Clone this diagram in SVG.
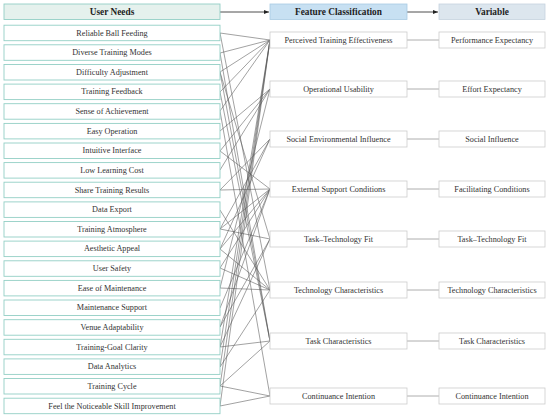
<svg xmlns="http://www.w3.org/2000/svg" width="550" height="420" viewBox="0 0 550 420">
<defs>
<marker id="arr" markerWidth="6" markerHeight="6" refX="5" refY="3" orient="auto" markerUnits="userSpaceOnUse">
<path d="M0,1 L5,3 L0,5 Z" fill="#222"/>
</marker>
<style>
text{font-family:"Liberation Serif","Times New Roman",serif;fill:#333;font-size:8.2px;text-anchor:middle;dominant-baseline:central}
.hd{font-weight:bold;font-size:9.3px;fill:#222}
.ln{fill:#fff;stroke:#93cfc5;stroke-width:0.9}
.lh{fill:#e5f1ed;stroke:#93cfc5;stroke-width:0.9}
.mb{fill:#fff;stroke:#cccccc;stroke-width:0.8}
.mh{fill:#c7e0f2;stroke:#a9cbe3;stroke-width:0.8}
.vh{fill:#dce6ee;stroke:#c5d3de;stroke-width:0.8}
.e{stroke:#555;stroke-width:0.55;fill:none}
.m{stroke:#999;stroke-width:0.8;fill:none}
.a{stroke:#222;stroke-width:0.8;fill:none;marker-end:url(#arr)}
</style>
</defs>
<rect width="550" height="420" fill="#fff"/>
<g id="connectors">
<line class="a" x1="220" y1="12" x2="269" y2="12"/>
<line class="a" x1="407" y1="12" x2="438" y2="12"/>
<g class="m">
<line x1="407" y1="40" x2="439" y2="40"/>
<line x1="407" y1="89" x2="439" y2="89"/>
<line x1="407" y1="139" x2="439" y2="139"/>
<line x1="407" y1="189" x2="439" y2="189"/>
<line x1="407" y1="239" x2="439" y2="239"/>
<line x1="407" y1="290" x2="439" y2="290"/>
<line x1="407" y1="341" x2="439" y2="341"/>
<line x1="407" y1="396" x2="439" y2="396"/>
</g>
<g class="e">
<path d="M220,33L270,40M220,53L270,40M220,72L270,40M220,92L270,40M220,111L270,40M220,347L270,40M220,367L270,40M220,386L270,40M220,406L270,40"/>
<path d="M220,131L270,89M220,151L270,89M220,170L270,89M220,288L270,89"/>
<path d="M220,190L270,139M220,229L270,139M220,249L270,139"/>
<path d="M220,151L270,189M220,190L270,189M220,229L270,189M220,249L270,189M220,268L270,189M220,308L270,189M220,327L270,189"/>
<path d="M220,72L270,239M220,229L270,239M220,327L270,239M220,347L270,239"/>
<path d="M220,33L270,290M220,210L270,290M220,249L270,290M220,268L270,290M220,288L270,290M220,367L270,290"/>
<path d="M220,53L270,341M220,72L270,341M220,92L270,341M220,347L270,341M220,386L270,341"/>
<path d="M220,111L270,396M220,386L270,396M220,406L270,396"/>
</g>
</g>
<g id="h-user"><rect class="lh" x="4" y="4" width="216" height="15.5"/><text class="hd" x="112" y="12">User Needs</text></g>
<g id="h-feature"><rect class="mh" x="270" y="4" width="137" height="15.5"/><text class="hd" x="338.5" y="12">Feature Classification</text></g>
<g id="h-variable"><rect class="vh" x="439" y="4" width="106" height="15.5"/><text class="hd" x="492" y="12">Variable</text></g>
<g id="n0"><rect class="ln" x="4" y="25.2" width="216" height="15.5"/><text x="112" y="33">Reliable Ball Feeding</text></g>
<g id="n1"><rect class="ln" x="4" y="44.8" width="216" height="15.5"/><text x="112" y="52.6">Diverse Training Modes</text></g>
<g id="n2"><rect class="ln" x="4" y="64.5" width="216" height="15.5"/><text x="112" y="72.2">Difficulty Adjustment</text></g>
<g id="n3"><rect class="ln" x="4" y="84.1" width="216" height="15.5"/><text x="112" y="91.9">Training Feedback</text></g>
<g id="n4"><rect class="ln" x="4" y="103.7" width="216" height="15.5"/><text x="112" y="111.5">Sense of Achievement</text></g>
<g id="n5"><rect class="ln" x="4" y="123.4" width="216" height="15.5"/><text x="112" y="131.1">Easy Operation</text></g>
<g id="n6"><rect class="ln" x="4" y="143" width="216" height="15.5"/><text x="112" y="150.8">Intuitive Interface</text></g>
<g id="n7"><rect class="ln" x="4" y="162.6" width="216" height="15.5"/><text x="112" y="170.4">Low Learning Cost</text></g>
<g id="n8"><rect class="ln" x="4" y="182.2" width="216" height="15.5"/><text x="112" y="190">Share Training Results</text></g>
<g id="n9"><rect class="ln" x="4" y="201.9" width="216" height="15.5"/><text x="112" y="209.7">Data Export</text></g>
<g id="n10"><rect class="ln" x="4" y="221.5" width="216" height="15.5"/><text x="112" y="229.3">Training Atmosphere</text></g>
<g id="n11"><rect class="ln" x="4" y="241.1" width="216" height="15.5"/><text x="112" y="248.9">Aesthetic Appeal</text></g>
<g id="n12"><rect class="ln" x="4" y="260.8" width="216" height="15.5"/><text x="112" y="268.6">User Safety</text></g>
<g id="n13"><rect class="ln" x="4" y="280.4" width="216" height="15.5"/><text x="112" y="288.2">Ease of Maintenance</text></g>
<g id="n14"><rect class="ln" x="4" y="300" width="216" height="15.5"/><text x="112" y="307.8">Maintenance Support</text></g>
<g id="n15"><rect class="ln" x="4" y="319.7" width="216" height="15.5"/><text x="112" y="327.5">Venue Adaptability</text></g>
<g id="n16"><rect class="ln" x="4" y="339.3" width="216" height="15.5"/><text x="112" y="347.1">Training-Goal Clarity</text></g>
<g id="n17"><rect class="ln" x="4" y="358.9" width="216" height="15.5"/><text x="112" y="366.7">Data Analytics</text></g>
<g id="n18"><rect class="ln" x="4" y="378.5" width="216" height="15.5"/><text x="112" y="386.3">Training Cycle</text></g>
<g id="n19"><rect class="ln" x="4" y="398.2" width="216" height="15.5"/><text x="112" y="406">Feel the Noticeable Skill Improvement</text></g>
<g id="f0"><rect class="mb" x="270" y="32" width="137" height="16"/><text x="338.5" y="40">Perceived Training Effectiveness</text></g>
<g id="f1"><rect class="mb" x="270" y="81" width="137" height="16"/><text x="338.5" y="89">Operational Usability</text></g>
<g id="f2"><rect class="mb" x="270" y="131" width="137" height="16"/><text x="338.5" y="139">Social Environmental Influence</text></g>
<g id="f3"><rect class="mb" x="270" y="181" width="137" height="16"/><text x="338.5" y="189">External Support Conditions</text></g>
<g id="f4"><rect class="mb" x="270" y="231" width="137" height="16"/><text x="338.5" y="239">Task–Technology Fit</text></g>
<g id="f5"><rect class="mb" x="270" y="282" width="137" height="16"/><text x="338.5" y="290">Technology Characteristics</text></g>
<g id="f6"><rect class="mb" x="270" y="333" width="137" height="16"/><text x="338.5" y="341">Task Characteristics</text></g>
<g id="f7"><rect class="mb" x="270" y="388" width="137" height="16"/><text x="338.5" y="396">Continuance Intention</text></g>
<g id="v0"><rect class="mb" x="439" y="32" width="106" height="16"/><text x="492" y="40">Performance Expectancy</text></g>
<g id="v1"><rect class="mb" x="439" y="81" width="106" height="16"/><text x="492" y="89">Effort Expectancy</text></g>
<g id="v2"><rect class="mb" x="439" y="131" width="106" height="16"/><text x="492" y="139">Social Influence</text></g>
<g id="v3"><rect class="mb" x="439" y="181" width="106" height="16"/><text x="492" y="189">Facilitating Conditions</text></g>
<g id="v4"><rect class="mb" x="439" y="231" width="106" height="16"/><text x="492" y="239">Task–Technology Fit</text></g>
<g id="v5"><rect class="mb" x="439" y="282" width="106" height="16"/><text x="492" y="290">Technology Characteristics</text></g>
<g id="v6"><rect class="mb" x="439" y="333" width="106" height="16"/><text x="492" y="341">Task Characteristics</text></g>
<g id="v7"><rect class="mb" x="439" y="388" width="106" height="16"/><text x="492" y="396">Continuance Intention</text></g>
</svg>
